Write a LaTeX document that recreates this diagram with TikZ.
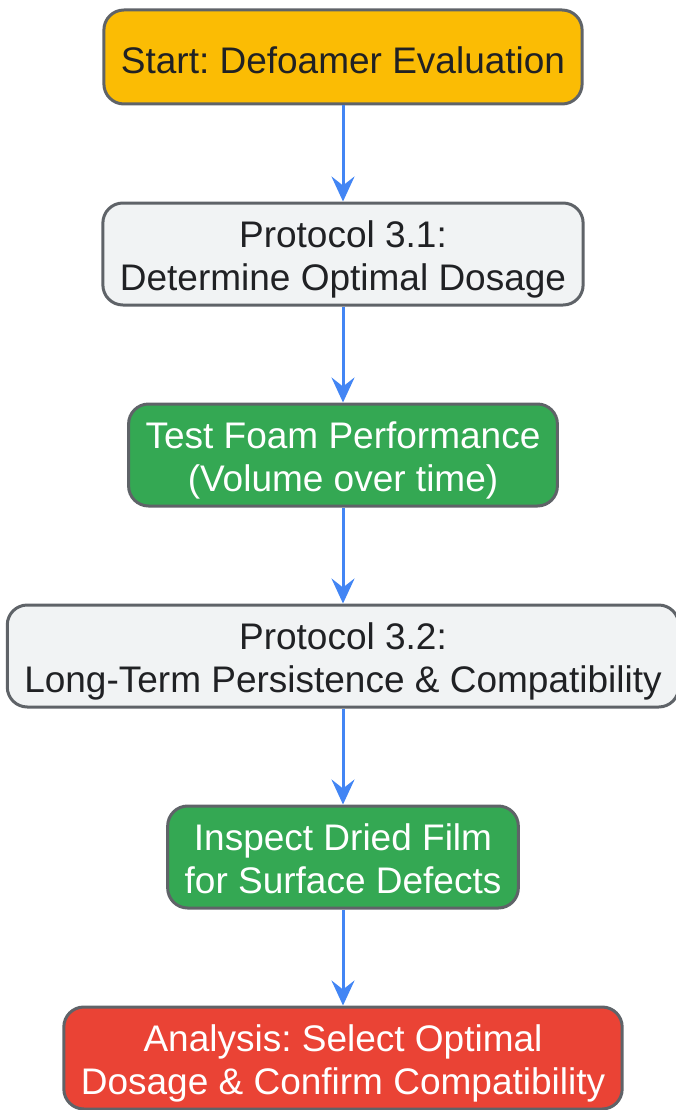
\documentclass[tikz,border=0pt]{standalone}
\usepackage{fontspec}
\setmainfont{Liberation Sans}
\usetikzlibrary{positioning, arrows.meta}
\definecolor{startorange}{HTML}{FBBC04}
\definecolor{stepgray}{HTML}{F1F3F4}
\definecolor{testgreen}{HTML}{34A853}
\definecolor{endred}{HTML}{EA4335}
\definecolor{edgegray}{HTML}{5F6368}
\definecolor{flowblue}{HTML}{4285F4}
\definecolor{textdark}{HTML}{202124}
\frenchspacing

\begin{document}
\begin{tikzpicture}[x=1pt, y=-1pt]
                        % box = rounded step, twoline = fixed text box for two lines, flow = blue connector
                        \tikzset{box/.style={rectangle, rounded corners=20pt, draw=edgegray, line width=3pt,
                                        align=center, inner xsep=17pt, inner ysep=0pt, minimum height=102pt,
                                        text=textdark, font=\fontsize{37}{43}\selectfont},
                                twoline/.style={text height=80pt, text depth=8pt},
                                flow/.style={flowblue, line width=3pt,
                                        -{Stealth[length=25pt, width=23pt, inset=9pt]}}}
                        \useasboundingbox (0, 0) rectangle (675, 1110);
                        \node[box, fill=startorange, minimum height=94pt, text height=33pt, text depth=0pt] (S) at (343, 57) {Start: Defoamer Evaluation};
                        \node[box, twoline, fill=stepgray, below=96pt of S] (P1) {Protocol 3.1:\\Determine Optimal Dosage};
                        \node[box, twoline, fill=testgreen, text=white, below=96pt of P1] (T) {Test Foam Performance\\(Volume over time)};
                        \node[box, twoline, fill=stepgray, below=96pt of T] (P2) {Protocol 3.2:\\Long-Term Persistence \& Compatibility};
                        \node[box, twoline, fill=testgreen, text=white, below=96pt of P2] (I) {Inspect Dried Film\\for Surface Defects};
                        \node[box, twoline, fill=endred, text=white, below=96pt of I] (A) {Analysis: Select Optimal\\Dosage \& Confirm Compatibility};

                        \draw[flow] (S) -- (P1);
                        \draw[flow] (P1) -- (T);
                        \draw[flow] (T) -- (P2);
                        \draw[flow] (P2) -- (I);
                        \draw[flow] (I) -- (A);
                \end{tikzpicture}
\end{document}
